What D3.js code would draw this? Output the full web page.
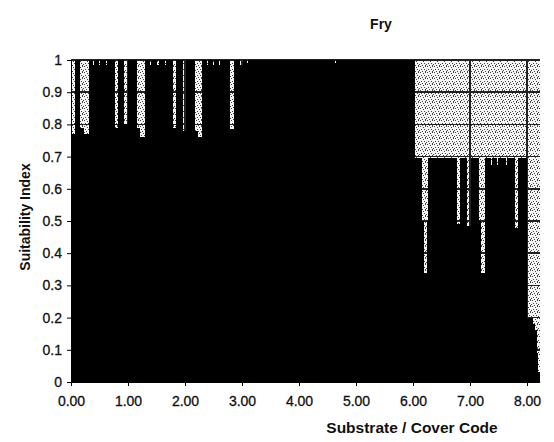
<!DOCTYPE html>
<html>
<head>
<meta charset="utf-8">
<script src="https://cdn.jsdelivr.net/npm/d3@7"></script>
<style>
  html, body { margin: 0; padding: 0; background: #fff; }
  svg { display: block; }
  text { font-family: "Liberation Sans", Arial, sans-serif; fill: #111; }
</style>
</head>
<body>
<svg id="chart" width="554" height="442"></svg>
<script>
// ---- data: left edge of each bar (substrate / cover code) and its suitability index ----
const codes = [
  0.00, 0.07, 0.16, 0.23, 0.32, 0.38, 0.40, 0.49, 0.51, 0.61, 0.63, 0.77, 0.82, 0.93,
  1.00, 1.16, 1.21, 1.30, 1.39, 1.41, 1.51, 1.54, 1.65, 1.67, 1.79, 1.84, 1.96,
  2.02, 2.18, 2.23, 2.30, 2.39, 2.41, 2.49, 2.51, 2.60, 2.62, 2.79, 2.86, 2.96,
  3.02, 3.09, 3.11, 4.63, 4.65,
  6.04, 6.16, 6.19, 6.25, 6.26, 6.77, 6.82, 6.95,
  7.02, 7.16, 7.19, 7.26, 7.37, 7.39, 7.47, 7.49, 7.63, 7.65, 7.79, 7.84,
  8.00, 8.11, 8.14, 8.18, 8.19
];
const suitability = [
  0.77, 1.00, 0.79, 0.77, 1.00, 0.985, 1.00, 0.985, 1.00, 0.985, 1.00, 0.79, 1.00, 0.80,
  1.00, 0.79, 0.76, 1.00, 0.985, 1.00, 0.985, 1.00, 0.985, 1.00, 0.79, 1.00, 0.78,
  1.00, 0.78, 0.76, 1.00, 0.985, 1.00, 0.985, 1.00, 0.985, 1.00, 0.785, 1.00, 0.985,
  1.00, 0.99, 1.00, 0.99, 1.00,
  0.695, 0.50, 0.34, 0.50, 0.695, 0.49, 0.695, 0.485,
  0.695, 0.50, 0.34, 0.695, 0.675, 0.695, 0.675, 0.695, 0.675, 0.695, 0.478, 0.695,
  0.20, 0.18, 0.16, 0.09, 0.03
];
const lastCode = 8.23;            // right edge of the last bar / plot area
const xTicks = [0, 1, 2, 3, 4, 5, 6, 7, 8];
const xTickLabels = ["0.00", "1.00", "2.00", "3.00", "4.00", "5.00", "6.00", "7.00", "8.00"];
const yTicks = [0, 0.1, 0.2, 0.3, 0.4, 0.5, 0.6, 0.7, 0.8, 0.9, 1];
const yTickLabels = ["0", "0.1", "0.2", "0.3", "0.4", "0.5", "0.6", "0.7", "0.8", "0.9", "1"];
const title = "Fry";
const xTitle = "Substrate / Cover Code";
const yTitle = "Suitability Index";

// ---- layout ----
const svg = d3.select("#chart");
const x = d3.scaleLinear().domain([0, 8]).range([71, 527]);
const y = d3.scaleLinear().domain([0, 1]).range([382, 60]);

// stippled (scanned grey) plot background
const defs = svg.append("defs");
const pat = defs.append("pattern").attr("id", "stip")
  .attr("patternUnits", "userSpaceOnUse").attr("width", 7).attr("height", 6);
pat.append("rect").attr("width", 7).attr("height", 6).attr("fill", "#f4f4f4");
[[0,0],[3,1],[5,0],[1,3],[4,3],[6,4],[2,5],[5,5]].forEach(([a, b]) =>
  pat.append("rect").attr("x", a).attr("y", b).attr("width", 1).attr("height", 1).attr("fill", "#444"));

svg.append("rect")
  .attr("x", x(0)).attr("y", y(1))
  .attr("width", x(lastCode) - x(0)).attr("height", y(0) - y(1))
  .attr("fill", "url(#stip)");

// gridlines
const grid = svg.append("g").attr("stroke", "#222").attr("stroke-width", 1.6).attr("shape-rendering", "crispEdges");
grid.selectAll("line.h").data(yTicks.filter(d => d > 0)).join("line")
  .attr("x1", x(0)).attr("x2", x(lastCode))
  .attr("y1", d => y(d)).attr("y2", d => y(d));
grid.selectAll("line.v").data(xTicks.filter(d => d > 0)).join("line")
  .attr("x1", d => x(d)).attr("x2", d => x(d))
  .attr("y1", y(1)).attr("y2", y(0));

// bars
const bars = codes.map((c, i) => ({ c0: c, c1: i < codes.length - 1 ? codes[i + 1] : lastCode, v: suitability[i] }));
svg.append("g").attr("shape-rendering", "crispEdges")
  .selectAll("rect").data(bars).join("rect")
  .attr("x", d => x(d.c0))
  .attr("width", d => x(d.c1) - x(d.c0))
  .attr("y", d => y(d.v))
  .attr("height", d => y(0) - y(d.v))
  .attr("fill", "#000");

// axes
const xAxis = d3.axisBottom(x).tickValues(xTicks).tickFormat((d, i) => xTickLabels[i]).tickSize(4).tickPadding(10);
const gx = svg.append("g").attr("transform", `translate(0,${y(0)})`).call(xAxis);
gx.select(".domain").attr("d", `M${x(0)},0.5H${x(lastCode)}`).attr("stroke", "#000");
gx.selectAll(".tick line").attr("stroke", "#000");
gx.selectAll("text").style("font-size", "14px").style("font-family", "Liberation Sans, Arial, sans-serif")
  .attr("fill", "#111").attr("stroke", "#111").attr("stroke-width", 0.3);

const yAxis = d3.axisLeft(y).tickValues(yTicks).tickFormat((d, i) => yTickLabels[i]).tickSize(4).tickPadding(5);
const gy = svg.append("g").attr("transform", `translate(${x(0)},0)`).call(yAxis);
gy.select(".domain").attr("stroke", "#000");
gy.selectAll(".tick line").attr("stroke", "#000");
gy.selectAll("text").style("font-size", "14px").style("font-family", "Liberation Sans, Arial, sans-serif")
  .attr("fill", "#111").attr("stroke", "#111").attr("stroke-width", 0.3);

// titles
svg.append("text").attr("x", 381).attr("y", 29).attr("text-anchor", "middle")
  .style("font-size", "14px").style("font-weight", "bold").text(title);
svg.append("text").attr("x", 412).attr("y", 433).attr("text-anchor", "middle")
  .style("font-size", "15.5px").style("font-weight", "bold").text(xTitle);
svg.append("text").attr("transform", "translate(30,217) rotate(-90)").attr("text-anchor", "middle")
  .style("font-size", "14px").style("font-weight", "bold").text(yTitle);
</script>
</body>
</html>
